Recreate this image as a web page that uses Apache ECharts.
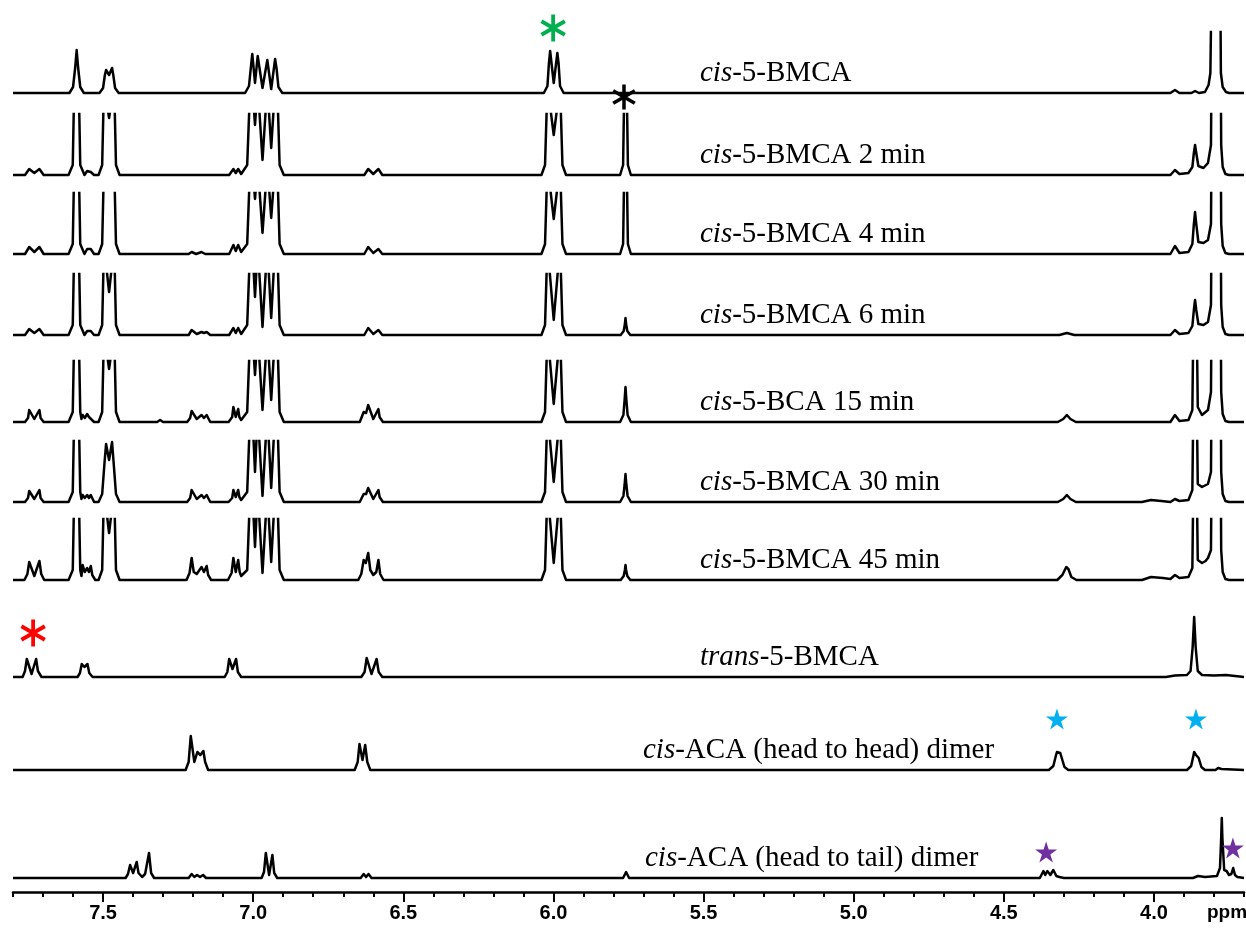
<!DOCTYPE html>
<html><head><meta charset="utf-8">
<script src="https://cdn.jsdelivr.net/npm/echarts@6/dist/echarts.min.js"></script>
<style>html,body{margin:0;padding:0;background:#fff}#c{width:1246px;height:934px}</style>
</head><body><div id="c"></div>
<script>
// ---------------- DATA (ppm, intensity) ----------------
const spectrumLabels = [
  'cis-5-BMCA', 'cis-5-BMCA 2 min', 'cis-5-BMCA 4 min', 'cis-5-BMCA 6 min',
  'cis-5-BCA 15 min', 'cis-5-BMCA 30 min', 'cis-5-BMCA 45 min', 'trans-5-BMCA',
  'cis-ACA (head to head) dimer', 'cis-ACA (head to tail) dimer'
];
const majorTicks = [4.0, 4.5, 5.0, 5.5, 6.0, 6.5, 7.0, 7.5];
const minorTicks = [3.7, 3.8, 3.9, 4.1, 4.2, 4.3, 4.4, 4.6, 4.7, 4.8, 4.9, 5.1, 5.2, 5.3, 5.4, 5.6, 5.7, 5.8, 5.9,
  6.1, 6.2, 6.3, 6.4, 6.6, 6.7, 6.8, 6.9, 7.1, 7.2, 7.3, 7.4, 7.6, 7.7, 7.8];

const specCis = [[7.80,0],
  [7.612,0],[7.600,6],[7.593,25],[7.588,43],[7.583,25],[7.576,6],[7.564,0],
  [7.512,0],[7.500,5],[7.494,18],[7.490,23],[7.480,18],[7.470,25],[7.466,18],[7.460,5],[7.448,0],
  [7.027,0],[7.014,7],[7.007,28],[7.003,39],[6.994,10],[6.985,37],[6.969,5],[6.953,33],[6.940,4],[6.927,34],[6.922,24],[6.916,6],[6.903,0],
  [6.032,0],[6.020,7],[6.015,30],[6.011,42],[5.999,10],[5.987,40],[5.983,30],[5.978,7],[5.966,0],
  [3.945,0],[3.930,3],[3.915,0],[3.875,0],[3.863,2],[3.850,0],
  [3.830,1],[3.818,8],[3.812,20],[3.804,200],[3.781,200],[3.777,20],[3.771,6],[3.760,1],[3.750,0],[3.70,0]];

const spec2min = [[7.80,0],
  [7.760,0],[7.746,6],[7.729,2],[7.712,6],[7.698,0],
  [7.615,0],[7.601,10],[7.596,90],[7.581,90],[7.576,10],[7.562,0],
  [7.556,1],[7.553,4],[7.547,2],[7.541,3],[7.530,0],
  [7.515,0],[7.503,10],[7.497,90],[7.480,57],[7.463,90],[7.457,10],[7.445,0],
  [7.080,0],[7.066,6],[7.058,2],[7.050,6],[7.040,1],
  [7.035,0],[7.020,10],[7.010,90],[7.003,90],[6.994,50],[6.985,90],[6.969,15],[6.953,90],[6.940,27],[6.927,90],[6.920,90],[6.912,10],[6.898,0],
  [6.630,0],[6.617,6],[6.600,1],[6.583,6],[6.570,0],
  [6.040,0],[6.028,10],[6.020,90],[5.999,40],[5.978,90],[5.970,10],[5.958,0],
  [5.778,0],[5.768,10],[5.764,90],[5.756,90],[5.752,10],[5.742,0],
  [3.945,0],[3.930,5],[3.915,1],
  [3.885,2],[3.872,8],[3.867,22],[3.863,30],[3.859,22],[3.852,9],[3.835,7],
  [3.820,12],[3.810,30],[3.806,200],[3.779,200],[3.776,30],[3.771,8],[3.762,1],[3.750,0],[3.70,0]];

const spec4min = [[7.80,0],
  [7.760,0],[7.746,7],[7.729,2],[7.712,7],[7.698,0],
  [7.615,0],[7.601,10],[7.596,90],[7.581,90],[7.576,10],[7.562,0],
  [7.556,1],[7.553,5],[7.547,3],[7.541,5],[7.530,0],
  [7.515,0],[7.503,10],[7.497,90],[7.463,90],[7.457,10],[7.445,0],
  [7.215,0],[7.205,2],[7.190,0],[7.172,2],[7.160,0],
  [7.080,0],[7.066,9],[7.058,3],[7.050,9],[7.040,2],
  [7.035,0],[7.020,10],[7.010,90],[7.003,90],[6.994,55],[6.985,90],[6.969,21],[6.953,90],[6.940,36],[6.927,90],[6.920,90],[6.912,10],[6.898,0],
  [6.630,0],[6.617,7],[6.600,1],[6.583,5],[6.570,0],
  [6.040,0],[6.028,10],[6.020,90],[5.999,35],[5.978,90],[5.970,10],[5.958,0],
  [5.778,0],[5.768,10],[5.764,90],[5.756,90],[5.752,10],[5.742,0],
  [3.945,0],[3.930,8],[3.915,1],
  [3.885,2],[3.872,10],[3.867,30],[3.863,42],[3.859,30],[3.852,12],[3.835,11],
  [3.820,14],[3.810,30],[3.806,200],[3.779,200],[3.776,30],[3.771,8],[3.762,1],[3.750,0],[3.70,0]];

const spec6min = [[7.80,0],
  [7.760,0],[7.746,6],[7.729,2],[7.712,6],[7.698,0],
  [7.615,0],[7.601,10],[7.596,90],[7.581,90],[7.576,10],[7.562,0],
  [7.556,1],[7.553,4],[7.547,2],[7.541,4],[7.530,0],
  [7.515,0],[7.503,10],[7.497,90],[7.480,43],[7.463,90],[7.457,10],[7.445,0],
  [7.215,0],[7.205,5],[7.188,1],[7.172,3],[7.164,2],[7.155,3],[7.143,0],
  [7.080,0],[7.066,7],[7.058,2],[7.050,7],[7.040,1],
  [7.035,0],[7.020,10],[7.010,90],[7.003,90],[6.994,38],[6.985,90],[6.969,8],[6.953,90],[6.940,17],[6.927,90],[6.920,90],[6.912,10],[6.898,0],
  [6.630,0],[6.617,7],[6.600,1],[6.583,5],[6.570,0],
  [6.040,0],[6.028,10],[6.020,90],[5.999,15],[5.978,90],[5.970,10],[5.958,0],
  [5.776,0],[5.766,4],[5.762,11],[5.760,17],[5.758,11],[5.754,4],[5.744,0],
  [4.315,0],[4.290,2],[4.265,0],
  [3.945,0],[3.930,5],[3.915,1],
  [3.885,2],[3.872,9],[3.867,25],[3.863,35],[3.859,25],[3.852,11],[3.835,10],
  [3.820,13],[3.810,30],[3.806,200],[3.779,200],[3.776,30],[3.771,8],[3.762,1],[3.750,0],[3.70,0]];

const spec15min = [[7.80,0],
  [7.760,0],[7.750,4],[7.746,12],[7.729,3],[7.712,12],[7.708,4],[7.698,0],
  [7.615,0],[7.601,10],[7.596,90],[7.581,90],[7.576,10],[7.572,3],
  [7.568,7],[7.561,4],[7.553,8],[7.547,5],[7.541,7],[7.530,0],
  [7.515,0],[7.503,10],[7.497,90],[7.480,53],[7.463,90],[7.457,10],[7.445,0],
  [7.320,0],[7.310,2],[7.300,0],
  [7.220,0],[7.210,4],[7.205,11],[7.188,3],[7.172,7],[7.164,4],[7.155,7],[7.143,0],
  [7.082,0],[7.070,5],[7.066,15],[7.058,5],[7.050,13],[7.046,5],[7.040,2],
  [7.035,1],[7.020,10],[7.010,90],[7.003,90],[6.994,47],[6.985,90],[6.969,12],[6.953,90],[6.940,22],[6.927,90],[6.920,90],[6.912,10],[6.898,0],
  [6.645,0],[6.632,10],[6.624,9],[6.617,17],[6.600,3],[6.583,13],[6.579,5],[6.568,0],
  [6.040,0],[6.028,10],[6.020,90],[5.999,18],[5.978,90],[5.970,10],[5.958,0],
  [5.778,0],[5.767,7],[5.763,22],[5.760,35],[5.757,22],[5.753,7],[5.742,0],
  [4.320,0],[4.302,3],[4.290,7],[4.278,3],[4.260,0],
  [3.945,0],[3.930,7],[3.915,1],
  [3.885,2],[3.872,12],[3.869,90],[3.857,90],[3.854,15],[3.840,7],
  [3.820,12],[3.810,30],[3.806,200],[3.779,200],[3.776,30],[3.771,8],[3.762,1],[3.750,0],[3.70,0]];

const spec30min = [[7.80,0],
  [7.760,0],[7.750,4],[7.746,11],[7.729,3],[7.712,12],[7.708,4],[7.698,0],
  [7.615,0],[7.601,10],[7.596,90],[7.581,90],[7.576,10],[7.572,3],
  [7.568,7],[7.561,4],[7.553,7],[7.547,4],[7.541,7],[7.530,0],
  [7.515,0],[7.503,8],[7.495,40],[7.490,58],[7.480,42],[7.470,60],[7.465,40],[7.457,8],[7.445,0],
  [7.220,0],[7.210,4],[7.205,12],[7.188,3],[7.172,7],[7.164,4],[7.155,7],[7.143,0],
  [7.082,0],[7.070,4],[7.066,12],[7.058,5],[7.050,12],[7.046,5],[7.040,2],
  [7.035,1],[7.020,10],[7.010,90],[7.003,90],[6.994,30],[6.985,90],[6.969,6],[6.953,90],[6.940,14],[6.927,90],[6.920,90],[6.912,10],[6.898,0],
  [6.645,0],[6.632,8],[6.624,8],[6.617,14],[6.600,3],[6.583,12],[6.579,5],[6.568,0],
  [6.040,0],[6.028,10],[6.020,90],[5.999,20],[5.978,90],[5.970,10],[5.958,0],
  [5.778,0],[5.767,6],[5.763,17],[5.760,28],[5.757,17],[5.753,6],[5.742,0],
  [4.320,0],[4.302,3],[4.290,7],[4.278,3],[4.260,0],
  [4.040,0],[4.010,2],[3.975,1],
  [3.945,0],[3.930,3],[3.915,1],
  [3.885,2],[3.872,12],[3.869,90],[3.857,90],[3.854,18],[3.840,15],
  [3.820,18],[3.810,30],[3.806,200],[3.779,200],[3.776,30],[3.771,8],[3.762,1],[3.750,0],[3.70,0]];

const spec45min = [[7.80,0],
  [7.762,0],[7.752,6],[7.746,18],[7.729,4],[7.712,19],[7.706,6],[7.696,0],
  [7.615,0],[7.601,10],[7.596,90],[7.581,90],[7.576,10],[7.572,4],
  [7.568,15],[7.561,8],[7.553,12],[7.547,8],[7.541,14],[7.536,5],[7.526,0],
  [7.515,0],[7.503,10],[7.497,90],[7.480,47],[7.463,90],[7.457,10],[7.445,0],
  [7.222,0],[7.212,7],[7.205,22],[7.198,8],[7.188,6],[7.172,13],[7.164,8],[7.155,14],[7.150,5],[7.140,0],
  [7.084,0],[7.072,7],[7.066,22],[7.058,8],[7.050,20],[7.045,8],[7.040,4],
  [7.035,2],[7.020,10],[7.010,90],[7.003,90],[6.994,33],[6.985,90],[6.969,7],[6.953,90],[6.940,18],[6.927,90],[6.920,90],[6.912,10],[6.898,0],
  [6.650,0],[6.640,6],[6.632,20],[6.625,17],[6.617,27],[6.610,10],[6.600,5],[6.590,8],[6.583,20],[6.577,6],[6.566,0],
  [6.040,0],[6.028,10],[6.020,90],[5.999,17],[5.978,90],[5.970,10],[5.958,0],
  [5.776,0],[5.766,4],[5.762,10],[5.760,15],[5.758,10],[5.754,4],[5.744,0],
  [4.322,0],[4.305,5],[4.292,13],[4.285,11],[4.275,3],[4.258,0],
  [4.040,0],[4.010,3],[3.970,2],
  [3.945,1],[3.930,5],[3.915,2],
  [3.885,3],[3.872,12],[3.869,90],[3.857,90],[3.854,20],[3.840,17],[3.828,19],
  [3.820,22],[3.810,30],[3.806,200],[3.779,200],[3.776,30],[3.771,8],[3.762,1],[3.750,0],[3.70,0]];

const specTrans = [[7.80,0],
  [7.768,0],[7.760,6],[7.754,18],[7.738,3],[7.723,18],[7.717,6],[7.705,0],
  [7.585,0],[7.577,4],[7.571,13],[7.562,10],[7.552,13],[7.546,4],[7.535,0],
  [7.095,0],[7.086,5],[7.080,18],[7.069,8],[7.057,18],[7.051,5],[7.040,0],
  [6.640,0],[6.629,5],[6.622,19],[6.606,3],[6.589,18],[6.582,5],[6.570,0],
  [3.960,0],[3.930,1.5],[3.890,2],[3.878,6],[3.871,30],[3.866,60],[3.861,30],[3.854,6],[3.840,2],[3.800,1.5],[3.760,2],[3.730,1],[3.70,0]];

const specHeadHead = [[7.80,0],
  [7.225,0],[7.215,8],[7.208,34],[7.196,8],[7.186,18],[7.176,15],[7.166,19],[7.160,8],[7.150,0],
  [6.662,0],[6.652,8],[6.646,26],[6.636,10],[6.627,25],[6.620,8],[6.610,0],
  [4.350,0],[4.335,4],[4.326,15],[4.323,18],[4.317,16],[4.312,17],[4.307,12],[4.298,3],[4.285,0],
  [3.890,0],[3.876,4],[3.868,15],[3.866,18],[3.860,15],[3.855,17],[3.851,12],[3.842,3],[3.830,0],
  [3.795,0],[3.786,2],[3.775,1],[3.70,0]];

const specHeadTail = [[7.80,0],
  [7.425,0],[7.417,4],[7.410,13],[7.400,5],[7.388,16],[7.382,5],[7.370,1],[7.360,4],[7.347,25],[7.340,5],[7.330,0],
  [7.215,0],[7.205,4],[7.196,1],[7.187,3],[7.177,1],[7.167,3],[7.157,0],
  [6.972,0],[6.964,6],[6.958,25],[6.947,3],[6.936,23],[6.930,5],[6.920,0],
  [6.642,0],[6.632,4],[6.624,1],[6.616,4],[6.606,0],
  [5.768,0],[5.758,6],[5.748,0],
  [4.380,0],[4.368,7],[4.362,3],[4.355,7],[4.345,3],[4.335,8],[4.325,2],[4.315,1],[4.300,0],
  [3.870,0],[3.853,2],[3.830,1],
  [3.790,2],[3.780,10],[3.776,40],[3.774,60],[3.772,40],[3.766,8],[3.758,7],[3.750,3],[3.742,4],[3.736,10],[3.730,3],[3.722,1],[3.70,0]];

// annotation marks: [ppm, height above own baseline]
const greenAsterisk = [[6.001, 65]];   // on spectrum 1
const blackAsterisk = [[5.765, 78]];   // on spectrum 2
const redAsterisk = [[7.733, 44]];     // on trans spectrum
const blueStars = [[4.323, 51], [3.860, 51]];    // on head-to-head spectrum
const purpleStars = [[4.359, 26], [3.737, 30]];  // on head-to-tail spectrum

// ---------------- LAYOUT / STYLE ----------------
const spectra = [specCis, spec2min, spec4min, spec6min, spec15min, spec30min, spec45min, specTrans, specHeadHead, specHeadTail];
const baselineY = [93, 175, 254, 335, 422, 502, 580, 677, 770, 878];
const labelX = [700, 700, 700, 700, 700, 700, 700, 700, 643, 645];
const CLIPH = 61;
const ASTER = 'path://M-1.4,-10L1.4,-10L1.4,10L-1.4,10Z M7.96,-6.21L9.36,-3.79L-7.96,6.21L-9.36,3.79Z M9.36,3.79L7.96,6.21L-9.36,-3.79L-7.96,-6.21Z';
const STAR = 'path://M50,0L61.2,34.5L97.6,34.5L68.2,55.9L79.4,90.5L50,69.1L20.6,90.5L31.8,55.9L2.4,34.5L38.8,34.5Z';

const chart = echarts.init(document.getElementById('c'), null, {renderer: 'canvas'});
const grids = [], xAxes = [], yAxes = [], series = [], graphics = [];
spectra.forEach((d, i) => {
  grids.push({left: 13, right: 2, top: baselineY[i] - CLIPH, height: CLIPH + 2});
  xAxes.push({gridIndex: i, type: 'value', min: 3.7, max: 7.8, inverse: true, show: false});
  yAxes.push({gridIndex: i, type: 'value', min: -2, max: CLIPH, show: false});
  series.push({type: 'line', xAxisIndex: i, yAxisIndex: i, data: d, symbol: 'none', silent: true,
    clip: true, animation: false, lineStyle: {color: '#000', width: 2.5, join: 'round'}, z: 2});
  const lab = spectrumLabels[i];
  const k = lab.indexOf('-');
  graphics.push({type: 'text', x: labelX[i], y: baselineY[i] - 5, silent: true,
    style: {text: '{i|' + lab.slice(0, k) + '}{n|' + lab.slice(k) + '}', align: 'left', verticalAlign: 'bottom',
      fill: '#000',
      rich: {i: {fontFamily: 'Liberation Serif', fontStyle: 'italic', fontSize: 29, fill: '#000'},
             n: {fontFamily: 'Liberation Serif', fontSize: 29, fill: '#000'}}}});
});
// axis grid
grids.push({left: 13, right: 2, top: 880, height: 12});
yAxes.push({gridIndex: 10, type: 'value', min: 0, max: 1, show: false});
xAxes.push({gridIndex: 10, type: 'value', min: 3.7, max: 7.8, inverse: true, position: 'bottom',
  axisLine: {show: true, lineStyle: {color: '#000', width: 2.5}},
  axisTick: {show: true, length: 10, customValues: majorTicks, lineStyle: {color: '#000', width: 2}},
  axisLabel: {show: true, customValues: majorTicks, formatter: v => Number(v).toFixed(1), color: '#000',
    fontFamily: 'Liberation Sans', fontWeight: 'bold', fontSize: 20, margin: 11},
  splitLine: {show: false}});
xAxes.push({gridIndex: 10, type: 'value', min: 3.7, max: 7.8, inverse: true, position: 'bottom',
  axisLine: {show: false},
  axisTick: {show: true, length: 5, customValues: minorTicks, lineStyle: {color: '#000', width: 2}},
  axisLabel: {show: false}, splitLine: {show: false}});

function marks(data, row, symbol, size, color) {
  return {type: 'scatter', xAxisIndex: row, yAxisIndex: row, data: data, symbol: symbol, symbolSize: size,
    symbolKeepAspect: true, itemStyle: {color: color, opacity: 1}, clip: false, silent: true, animation: false, z: 5};
}
series.push(marks(greenAsterisk, 0, ASTER, 27, '#00b050'));
series.push(marks(blackAsterisk, 1, ASTER, 25, '#000000'));
series.push(marks(redAsterisk, 7, ASTER, 27, '#ff0000'));
series.push(marks(blueStars, 8, STAR, 22, '#00b0f0'));
series.push(marks(purpleStars, 9, STAR, 22, '#7030a0'));

graphics.push({type: 'text', x: 1227, y: 913, silent: true,
  style: {text: 'ppm', align: 'center', verticalAlign: 'middle', fill: '#000',
    font: 'bold 19px "Liberation Sans"'}});

chart.setOption({
  animation: false,
  backgroundColor: '#fff',
  grid: grids, xAxis: xAxes, yAxis: yAxes, series: series, graphic: graphics
});
</script></body></html>
